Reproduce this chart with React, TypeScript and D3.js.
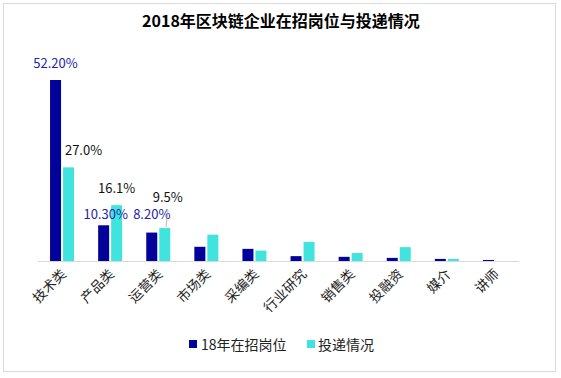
import React from "react";
import * as d3 from "d3";

const categories = ["技术类", "产品类", "运营类", "市场类", "采编类", "行业研究", "销售类", "投融资", "媒介", "讲师"];
const postings = [52.2, 10.3, 8.2, 4.1, 3.5, 1.4, 1.2, 0.9, 0.6, 0.3];
const applications = [27.0, 16.1, 9.5, 7.6, 3.0, 5.5, 2.3, 4.0, 0.6, 0.0];
const seriesNames = ["18年在招岗位", "投递情况"];
const title = "2018年区块链企业在招岗位与投递情况";

const W = 561, H = 378;
const FONT = "'Noto Sans CJK SC', 'Noto Sans', sans-serif";
const DARK = "#02029A";
const CYAN = "#40E4DE";
const LBLUE = "#2424A8";

export default function App() {
  const x0 = d3.scaleBand<string>().domain(categories).range([38, 519]).padding(0);
  const y = d3.scaleLinear().domain([0, 52.2]).range([261, 80]);
  const barW = 11;
  const cx = (c: string) => (x0(c) as number) + x0.bandwidth() / 2;
  const darkX = (c: string) => cx(c) - 12;
  const cyanX = (c: string) => cx(c) + 1;

  const darkLabels = [0, 1, 2];
  const cyanLabels = [
    { i: 0, dx: 15, dy: -12 },
    { i: 1, dx: 0, dy: -12 },
    { i: 2, dx: 3, dy: -26 },
  ];

  return (
    <div style={{ position: "fixed", left: 0, top: 0 }}>
      <svg width={W} height={H} style={{ display: "block", background: "#fff" }}>
        <rect x={3.5} y={3.5} width={552} height={368} fill="#fff" stroke="#d9d9d9" strokeWidth={1} />
        <text x={281} y={26.5} textAnchor="middle" fontFamily={FONT} fontWeight="bold" fontSize={16} fill="#000">
          {title}
        </text>
        {categories.map((c, i) => (
          <g key={c}>
            <rect x={darkX(c)} y={y(postings[i])} width={barW} height={261 - y(postings[i])} fill={DARK} />
            {applications[i] > 0 && (
              <rect x={cyanX(c)} y={y(applications[i])} width={barW} height={261 - y(applications[i])} fill={CYAN} />
            )}
          </g>
        ))}
        <line x1={38} x2={519} y1={261.5} y2={261.5} stroke="#d9d9d9" strokeWidth={1} />
        {darkLabels.map((i) => {
          const c = categories[i];
          const yy = i === 0 ? y(postings[i]) - 12 : 219;
          return (
            <text key={"d" + i} x={darkX(c) + barW / 2 + (i === 1 ? 2 : 0)} y={yy} textAnchor="middle" fontFamily={FONT} fontSize={13} fill={LBLUE}>
              {postings[i].toFixed(2) + "%"}
            </text>
          );
        })}
        {cyanLabels.map(({ i, dx, dy }) => {
          const c = categories[i];
          return (
            <text key={"c" + i} x={cyanX(c) + barW / 2 + dx} y={y(applications[i]) + dy} textAnchor="middle" fontFamily={FONT} fontSize={13} fill="#111">
              {applications[i].toFixed(1) + "%"}
            </text>
          );
        })}
        <line x1={168} y1={210} x2={166} y2={227} stroke="#a6a6a6" strokeWidth={0.8} />
        {categories.map((c) => (
          <text
            key={"t" + c}
            transform={`translate(${cx(c) + 5},${275}) rotate(-45)`}
            textAnchor="end"
            fontFamily={FONT}
            fontSize={13.5}
            fill="#222"
          >
            {c}
          </text>
        ))}
        <rect x={189} y={340} width={8} height={8} fill={DARK} />
        <text x={201} y={349.5} fontFamily={FONT} fontSize={14} fill="#222">{seriesNames[0]}</text>
        <rect x={307} y={340} width={8} height={8} fill={CYAN} />
        <text x={318} y={349.5} fontFamily={FONT} fontSize={14} fill="#222">{seriesNames[1]}</text>
      </svg>
    </div>
  );
}
